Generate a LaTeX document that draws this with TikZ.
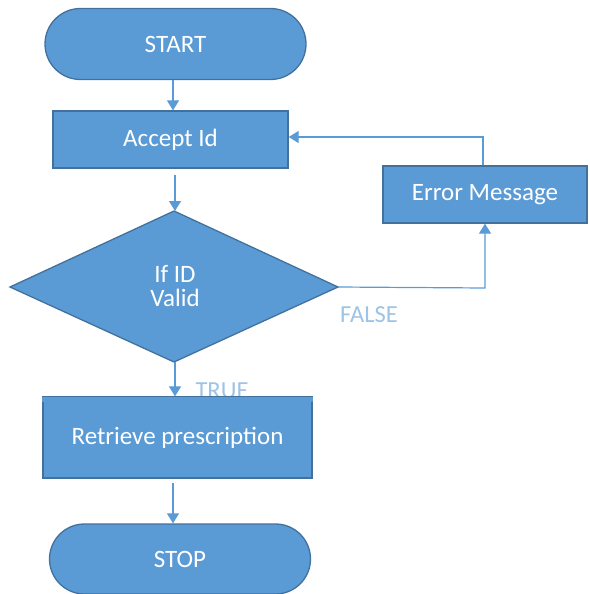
\documentclass[tikz,border=0pt]{standalone}
\usepackage{fontspec}
\setmainfont{Carlito}
\usetikzlibrary{arrows.meta,shapes.geometric,shapes.misc}
\definecolor{boxfill}{HTML}{5B9BD5}
\definecolor{boxline}{HTML}{41719C}
\definecolor{labelblue}{HTML}{9DC3E6}
\tikzset{
  shapebase/.style={fill=boxfill, draw=boxline, line width=1.3pt, text=white,
    font=\fontsize{25}{25}\selectfont, inner sep=0pt},
  terminal/.style={shapebase, rounded rectangle, minimum width=#1, minimum height=71pt},
  procbox/.style={shapebase, rectangle},
  flow/.style={draw=boxfill, line width=1.2pt, -{Triangle[width=12pt,length=10pt]}},
  branchlabel/.style={text=labelblue, font=\fontsize{24.5}{25}\selectfont, inner sep=0pt}
}
\begin{document}
\begin{tikzpicture}[x=1pt,y=-1pt]
  \useasboundingbox (0,0) rectangle (589,594);
  % terminals
  \node[terminal=261pt] (start) at (175.5,44) {START};
  \node[terminal=261pt, minimum height=70pt] (stop) at (180,559) {STOP};
  % process boxes
  \node[procbox, minimum width=235pt, minimum height=57pt] (accept) at (170.5,139.5) {Accept Id};
  \node[procbox, minimum width=204pt, minimum height=57pt] (error) at (485,194.5) {Error Message};
  \node[procbox, minimum width=269pt, minimum height=81pt] (retrieve) at (177.5,437.5) {Retrieve prescription};
  % decision
  \draw[fill=boxfill, draw=boxline, line width=1.3pt] (10,287) -- (174,211) -- (338,287) -- (174,362) -- cycle;
  \coordinate (dtop) at (174,211);
  \coordinate (dright) at (338,287);
  \coordinate (dbottom) at (174,362);
  \node[text=white, font=\fontsize{25}{24}\selectfont, align=center] (cond) at (175,286) {If ID\\Valid};
  % connectors
  \draw[flow] (start.south -| 173,0) -- (accept.north -| 173,0);
  \coordinate (a1) at (175,175);
  \draw[flow] (a1) -- (dtop -| 175,0);
  \coordinate (b1) at (175,362);
  \draw[flow] (b1) -- (retrieve.north -| 175,0);
  \coordinate (r1) at (173,483);
  \draw[flow] (r1) -- (stop.north -| 173,0);
  \draw[flow] (dright) -- (485,288) -- (error.south -| 485,0);
  \draw[flow] (error.north -| 483,0) -- (483,137) -- (accept.east |- 0,137);
  % branch labels (TRUE sits partly behind the box below it)
  \node[branchlabel] (truelbl) at (222,391) {TRUE};
  \node[branchlabel] (falselbl) at (369,315) {FALSE};
  % redraw the box top over the TRUE label
  \fill[boxfill] (retrieve.north west) rectangle ([yshift=-6pt]retrieve.north east);
  \draw[boxline, line width=1.3pt] (retrieve.north west) -- (retrieve.north east);
\end{tikzpicture}
\end{document}
